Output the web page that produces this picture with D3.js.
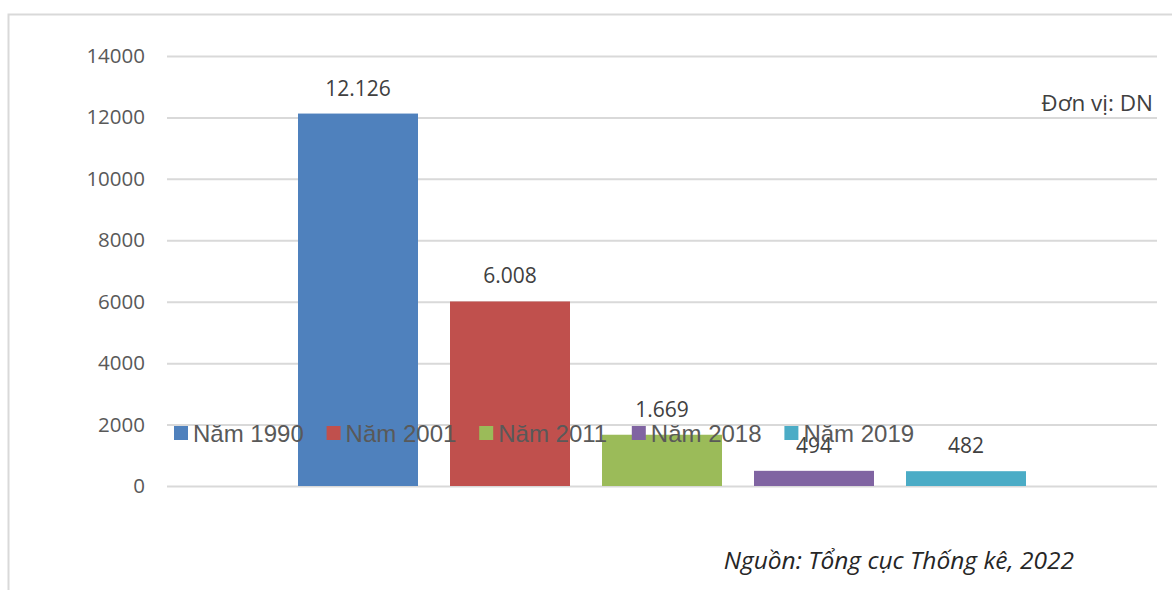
<!DOCTYPE html>
<html>
<head>
<meta charset="utf-8">
<script src="https://cdn.jsdelivr.net/npm/d3@7"></script>
<style>
  html, body { margin: 0; padding: 0; background: #fff; }
  svg { display: block; }
</style>
</head>
<body>
<svg id="chart" width="1172" height="590"></svg>
<script>
// Number of enterprises by year (unit: DN)
const series = ["Năm 1990", "Năm 2001", "Năm 2011", "Năm 2018", "Năm 2019"];
const values = [12126, 6008, 1669, 494, 482];
const valueLabels = ["12.126", "6.008", "1.669", "494", "482"];
const colors = ["#4F81BD", "#C0504D", "#9BBB59", "#8064A2", "#4BACC6"];
const yTicks = [0, 2000, 4000, 6000, 8000, 10000, 12000, 14000];

const svg = d3.select("#chart");
const labelFont = "'Open Sans', 'Noto Sans', sans-serif";

// Outer chart frame (top and left edges visible)
svg.append("path")
  .attr("d", "M8.5,590 V14.5 H1172")
  .attr("fill", "none")
  .attr("stroke", "#d9d9d9")
  .attr("stroke-width", 2);

const y = d3.scaleLinear().domain([0, 14000]).range([486, 56]);
const x = d3.scaleBand().domain(series).range([282, 1042])
  .paddingInner(32 / 152).paddingOuter(16 / 152);

// Horizontal gridlines + tick labels
const yAxis = d3.axisLeft(y).tickValues(yTicks).tickSize(-990).tickPadding(22).tickFormat(d3.format("d"));
const gAxis = svg.append("g").attr("transform", "translate(1157,0)");
gAxis.call(yAxis);
gAxis.select(".domain").remove();
gAxis.selectAll(".tick line").attr("stroke", "#d9d9d9").attr("stroke-width", 2)
  .attr("x1", 0).attr("x2", -990);
gAxis.selectAll(".tick text")
  .attr("x", -990 - 22)
  .attr("fill", "#595959")
  .style("font-family", labelFont)
  .style("font-size", "20.5px");

// Bars
svg.append("g").selectAll("rect")
  .data(series)
  .join("rect")
  .attr("x", d => x(d))
  .attr("width", x.bandwidth())
  .attr("y", (d, i) => y(values[i]))
  .attr("height", (d, i) => y(0) - y(values[i]))
  .attr("fill", (d, i) => colors[i]);

// Value labels above bars
svg.append("g").selectAll("text")
  .data(series)
  .join("text")
  .attr("x", d => x(d) + x.bandwidth() / 2)
  .attr("y", (d, i) => y(values[i]) - 18)
  .attr("text-anchor", "middle")
  .attr("fill", "#404040")
  .style("font-family", labelFont)
  .style("font-size", "21px")
  .text((d, i) => valueLabels[i]);

// Unit note
svg.append("text")
  .attr("x", 1153).attr("y", 111)
  .attr("text-anchor", "end")
  .attr("fill", "#404040")
  .style("font-family", labelFont)
  .style("font-size", "22.5px")
  .text("Đơn vị: DN");

// Source note
svg.append("text")
  .attr("x", 1074).attr("y", 569)
  .attr("text-anchor", "end")
  .attr("fill", "#262626")
  .style("font-family", labelFont)
  .style("font-style", "italic")
  .style("font-size", "24.5px")
  .text("Nguồn: Tổng cục Thống kê, 2022");

// Legend drawn on top of the plot
const legend = svg.append("g").attr("transform", "translate(174,426)");
const item = legend.selectAll("g")
  .data(series)
  .join("g")
  .attr("transform", (d, i) => `translate(${i * 152.6},0)`);
item.append("rect")
  .attr("width", 14).attr("height", 14)
  .attr("fill", (d, i) => colors[i]);
item.append("text")
  .attr("x", 19).attr("y", 15.5)
  .attr("fill", "#595959")
  .style("font-family", "'Liberation Sans', Arial, sans-serif")
  .style("font-size", "24px")
  .text(d => d);
</script>
</body>
</html>
